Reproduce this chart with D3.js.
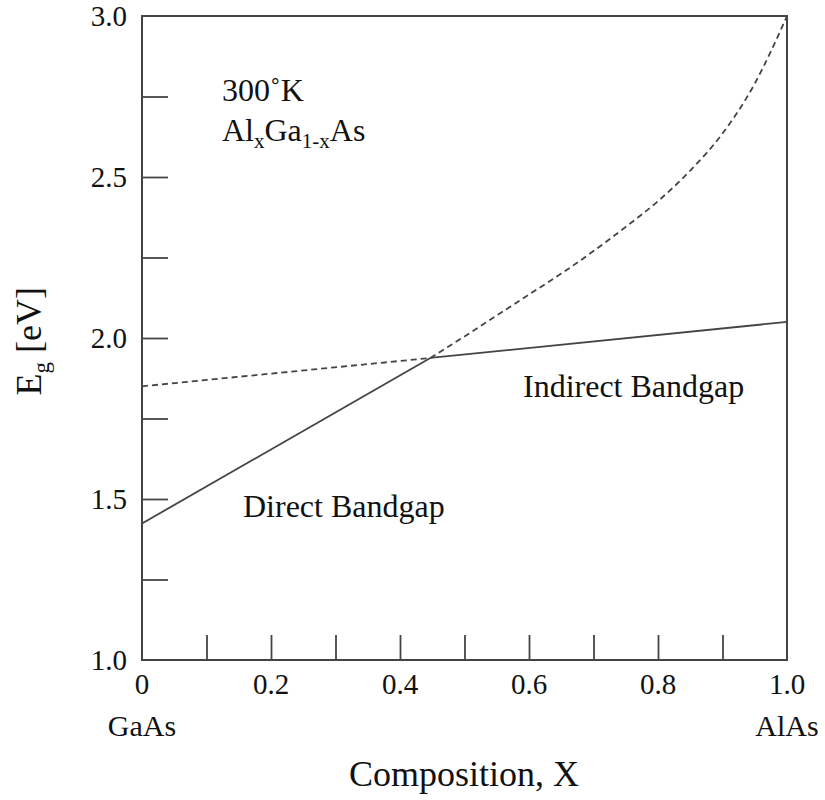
<!DOCTYPE html>
<html>
<head>
<meta charset="utf-8">
<script src="https://cdn.jsdelivr.net/npm/d3@7"></script>
<style>
  body { margin: 0; background: #fff; }
  svg text { font-family: "Liberation Serif", "Times New Roman", serif; fill: #111; }
</style>
</head>
<body>
<svg id="chart" width="825" height="800"></svg>
<script>
// AlxGa1-xAs bandgap vs composition (300 K)
const directSolidX = [0, 0.447];
const directSolidY = [1.424, 1.938];
const directDashX = [0.447, 0.5, 0.55, 0.6, 0.65, 0.7, 0.75, 0.8, 0.85, 0.9, 0.95, 0.975, 1.0];
const directDashY = [1.938, 2.005, 2.07, 2.135, 2.2, 2.27, 2.345, 2.425, 2.52, 2.635, 2.79, 2.89, 3.0];
const indirectDashX = [0, 0.447];
const indirectDashY = [1.85, 1.938];
const indirectSolidX = [0.447, 1.0];
const indirectSolidY = [1.938, 2.05];
const xTickLabels = ['0', '0.2', '0.4', '0.6', '0.8', '1.0'];
const yTickLabels = ['1.0', '1.5', '2.0', '2.5', '3.0'];

const W = 825, H = 800;
const m = { left: 142, right: 38, top: 16, bottom: 140 };
const svg = d3.select('#chart');
const x = d3.scaleLinear().domain([0, 1]).range([m.left, W - m.right]);
const y = d3.scaleLinear().domain([1, 3]).range([H - m.bottom, m.top]);
const axisCol = '#444';

// inward ticks every 0.1 / 0.25
const xt = d3.range(1, 10).map(i => i / 10);
const yt = d3.range(1, 8).map(i => 1 + i * 0.25);
svg.append('g').attr('transform', `translate(0,${y(1)})`)
  .call(d3.axisTop(x).tickValues(xt).tickSize(25).tickFormat(''))
  .call(g => g.select('.domain').remove())
  .selectAll('line').attr('stroke', axisCol).attr('stroke-width', 1.8);
svg.append('g').attr('transform', `translate(${x(0)},0)`)
  .call(d3.axisRight(y).tickValues(yt).tickSize(26).tickFormat(''))
  .call(g => g.select('.domain').remove())
  .selectAll('line').attr('stroke', axisCol).attr('stroke-width', 1.8);

// frame
svg.append('rect')
  .attr('x', x(0)).attr('y', y(3))
  .attr('width', x(1) - x(0)).attr('height', y(1) - y(3))
  .attr('fill', 'none').attr('stroke', axisCol).attr('stroke-width', 2);

// tick labels
svg.append('g').selectAll('text').data(xTickLabels).join('text')
  .attr('x', d => x(+d)).attr('y', y(1) + 34)
  .attr('text-anchor', 'middle').attr('font-size', 29)
  .text(d => d);
svg.append('g').selectAll('text').data(yTickLabels).join('text')
  .attr('x', x(0) - 15).attr('y', d => y(+d) + 10)
  .attr('text-anchor', 'end').attr('font-size', 29)
  .text(d => d);

svg.append('text').attr('x', x(0)).attr('y', y(1) + 76)
  .attr('text-anchor', 'middle').attr('font-size', 30).text('GaAs');
svg.append('text').attr('x', x(1)).attr('y', y(1) + 76)
  .attr('text-anchor', 'middle').attr('font-size', 30).text('AlAs');

// axis titles
svg.append('text').attr('x', 464).attr('y', 786)
  .attr('text-anchor', 'middle').attr('font-size', 36).text('Composition, X');
const yl = svg.append('text')
  .attr('transform', `translate(41,${y(1.99)}) rotate(-90)`)
  .attr('text-anchor', 'middle').attr('font-size', 36);
yl.append('tspan').text('E');
yl.append('tspan').attr('font-size', 23).attr('dy', 8).text('g');
yl.append('tspan').attr('dy', -8).text(' [eV]');

// curves
const line = d3.line().x(d => x(d[0])).y(d => y(d[1]));
const zip = (a, b) => a.map((v, i) => [v, b[i]]);
const draw = (xs, ys, dashed, curve) => svg.append('path')
  .datum(zip(xs, ys))
  .attr('d', line.curve(curve || d3.curveLinear))
  .attr('fill', 'none').attr('stroke', '#444').attr('stroke-width', 1.8)
  .attr('stroke-dasharray', dashed ? '6,4' : null);

draw(directSolidX, directSolidY, false);
draw(indirectSolidX, indirectSolidY, false);
draw(indirectDashX, indirectDashY, true);
draw(directDashX, directDashY, true, d3.curveMonotoneX);

// annotations
svg.append('text').attr('x', 222).attr('y', 101).attr('font-size', 32).text('300˚K');
const comp = svg.append('text').attr('x', 222).attr('y', 141).attr('font-size', 32);
comp.append('tspan').text('Al');
comp.append('tspan').attr('font-size', 21).attr('dy', 7).text('x');
comp.append('tspan').attr('dy', -7).text('Ga');
comp.append('tspan').attr('font-size', 21).attr('dy', 7).text('1-x');
comp.append('tspan').attr('dy', -7).text('As');

svg.append('text').attr('x', 243).attr('y', 517).attr('font-size', 32).text('Direct Bandgap');
svg.append('text').attr('x', 523).attr('y', 397).attr('font-size', 32).text('Indirect Bandgap');
</script>
</body>
</html>
